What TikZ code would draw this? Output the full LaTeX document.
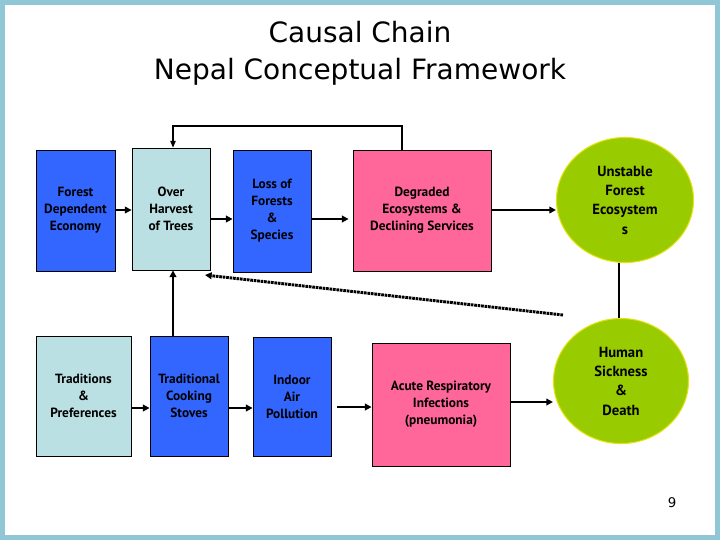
\documentclass[tikz,border=0pt]{standalone}
\usepackage{fontspec}
\setmainfont{DejaVu Sans}
\newfontfamily\boxfont{PT Sans}
\usetikzlibrary{arrows.meta,shapes.geometric}
\definecolor{bblue}{HTML}{3366FF}
\definecolor{lblue}{HTML}{BBE0E3}
\definecolor{pink}{HTML}{FF6699}
\definecolor{lgreen}{HTML}{99CC00}
\definecolor{frame}{HTML}{8FC7D6}
\begin{document}
\begin{tikzpicture}[x=0.75pt,y=-0.75pt,
  box/.style={draw=black,line width=0.6pt,inner sep=0pt,align=center,font=\boxfont\fontsize{10}{12.8}\selectfont\bfseries},
  circ/.style={ellipse,draw=yellow!70!lgreen,line width=0.8pt,fill=lgreen,inner sep=0pt,align=center,font=\boxfont\fontsize{11}{14.5}\selectfont\bfseries},
  arr/.style={-{Triangle[length=5pt,width=5pt]},line width=1.4pt},
  ln/.style={line width=0.8pt}]
\useasboundingbox (0,0) rectangle (720,540);
\fill[frame] (0,0) rectangle (720,540);
\fill[white] (5,5) rectangle (715,535);
\node[font=\fontsize{21}{28}\selectfont,align=center] (title) at (360,53) {Causal Chain\\Nepal Conceptual Framework};
\node[box,fill=bblue,minimum width=79*0.75pt,minimum height=121*0.75pt] (fde) at (75.5,210.5) {Forest\\Dependent\\Economy};
\node[box,fill=lblue,minimum width=78*0.75pt,minimum height=122*0.75pt] (oh) at (171,209) {Over\\Harvest\\of Trees};
\node[box,fill=bblue,minimum width=78*0.75pt,minimum height=122*0.75pt] (loss) at (272,211) {Loss of\\Forests\\\&\\Species};
\node[box,fill=pink,minimum width=138*0.75pt,minimum height=121*0.75pt] (deg) at (422,210.5) {Degraded\\Ecosystems \&\\Declining Services};
\node[circ,minimum width=137*0.75pt,minimum height=125*0.75pt] (uns) at (625,200) {Unstable\\Forest\\Ecosystem\\s};
\node[box,fill=lblue,minimum width=95*0.75pt,minimum height=120*0.75pt] (trad) at (83.5,396) {Traditions\\\&\\Preferences};
\node[box,fill=bblue,minimum width=78*0.75pt,minimum height=120*0.75pt] (cook) at (189,396) {Traditional\\Cooking\\Stoves};
\node[box,fill=bblue,minimum width=78*0.75pt,minimum height=119*0.75pt] (ind) at (292,396.5) {Indoor\\Air\\Pollution};
\node[box,fill=pink,minimum width=138*0.75pt,minimum height=123*0.75pt] (acu) at (441,404.5) {Acute Respiratory\\Infections\\(pneumonia)};
\node[circ,minimum width=135*0.75pt,minimum height=125*0.75pt] (hum) at (621,381) {Human\\Sickness\\\&\\Death};
\node[font=\fontsize{10}{12}\selectfont] (pg) at (672,503) {9};
\coordinate (c1) at (402,126);
\coordinate (c2) at (173,126);
\coordinate (i1) at (337,407);
\draw[arr,line width=1pt] (fde.east |- 0,210) -- (oh.west |- 0,210);
\draw[arr] (oh.east |- 0,219) -- (loss.west |- 0,219);
\draw[arr] (loss.east |- 0,219) -- ([xshift=-4*0.75pt]deg.west |- 0,219);
\draw[arr] (deg.east |- 0,210) -- (uns.west |- 0,210);
\draw[ln,-{Triangle[length=5pt,width=4pt]}] (deg.north -| c1) -- (c1) -- (c2) -- (oh.north -| c2);
\draw[arr] (cook.north -| c2) -- (oh.south -| c2);
\draw[ln] (uns.south -| 619,0) -- (hum.north -| 619,0);
\draw[line width=2.2pt,dash pattern=on 2pt off 0.6pt,-{Triangle[length=5pt,width=5pt]}] (563,315) -- (205,275);
\draw[arr] (trad.east |- 0,408) -- (cook.west |- 0,408);
\draw[arr] (cook.east |- 0,408) -- (ind.west |- 0,408);
\draw[arr] (i1) -- (acu.west |- i1);
\draw[arr] (acu.east |- 0,402) -- (hum.west |- 0,402);
\end{tikzpicture}
\end{document}
